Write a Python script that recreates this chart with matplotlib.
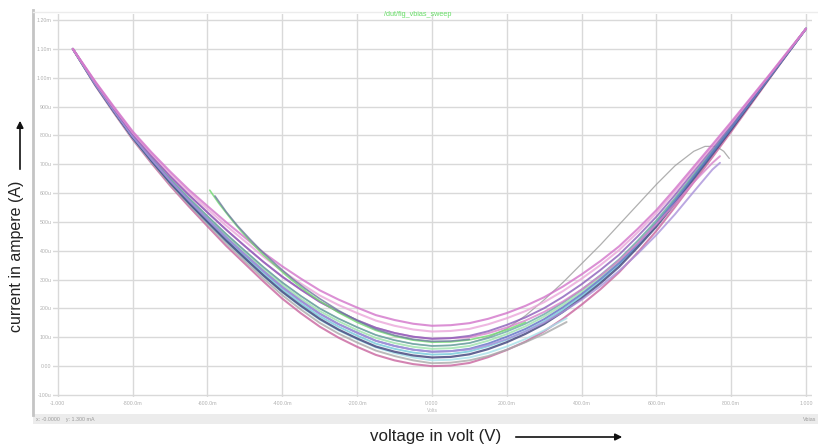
import matplotlib
matplotlib.use("Agg")
import matplotlib.pyplot as plt
from matplotlib.lines import Line2D
from matplotlib.patches import Rectangle, FancyArrowPatch

plt.rcParams['font.family'] = ['Liberation Sans', 'DejaVu Sans']

W, H = 818, 445

# ---------------- data ----------------
x_full = [-0.96, -0.90, -0.85, -0.80, -0.75, -0.70, -0.65, -0.60, -0.55, -0.50,
          -0.45, -0.40, -0.35, -0.30, -0.25, -0.20, -0.15, -0.10, -0.05, 0.00,
          0.05, 0.10, 0.15, 0.20, 0.25, 0.30, 0.35, 0.40, 0.45, 0.50,
          0.55, 0.60, 0.65, 0.70, 0.75, 0.80, 0.85, 0.90, 0.95, 1.00]

magenta = [1.100, 0.987, 0.899, 0.814, 0.742, 0.675, 0.612, 0.555, 0.499, 0.446,
           0.393, 0.346, 0.303, 0.263, 0.231, 0.203, 0.177, 0.160, 0.147, 0.140,
           0.142, 0.149, 0.164, 0.184, 0.209, 0.239, 0.276, 0.318, 0.364, 0.415,
           0.476, 0.541, 0.615, 0.692, 0.769, 0.847, 0.927, 1.007, 1.089, 1.170]
pink    = [1.100, 0.985, 0.896, 0.810, 0.737, 0.668, 0.604, 0.545, 0.487, 0.433,
           0.379, 0.330, 0.286, 0.245, 0.212, 0.184, 0.158, 0.140, 0.127, 0.120,
           0.122, 0.129, 0.145, 0.166, 0.191, 0.222, 0.260, 0.303, 0.350, 0.402,
           0.464, 0.531, 0.606, 0.684, 0.763, 0.842, 0.924, 1.005, 1.088, 1.170]
purple  = [1.100, 0.983, 0.892, 0.805, 0.730, 0.659, 0.594, 0.533, 0.473, 0.416,
           0.361, 0.310, 0.265, 0.223, 0.189, 0.159, 0.133, 0.115, 0.102, 0.095,
           0.097, 0.105, 0.121, 0.143, 0.169, 0.201, 0.240, 0.284, 0.333, 0.386,
           0.450, 0.518, 0.594, 0.675, 0.755, 0.836, 0.919, 1.003, 1.086, 1.170]
teal    = [1.100, 0.980, 0.888, 0.800, 0.723, 0.650, 0.583, 0.520, 0.458, 0.400,
           0.343, 0.290, 0.243, 0.200, 0.165, 0.135, 0.108, 0.090, 0.077, 0.070,
           0.072, 0.080, 0.097, 0.120, 0.147, 0.180, 0.220, 0.265, 0.315, 0.370,
           0.435, 0.505, 0.583, 0.665, 0.747, 0.830, 0.915, 1.000, 1.085, 1.170]
lgreen  = [1.100, 0.979, 0.887, 0.798, 0.720, 0.647, 0.579, 0.515, 0.452, 0.394,
           0.336, 0.282, 0.234, 0.191, 0.156, 0.125, 0.098, 0.080, 0.067, 0.060,
           0.062, 0.070, 0.088, 0.111, 0.138, 0.172, 0.212, 0.258, 0.308, 0.364,
           0.429, 0.500, 0.578, 0.661, 0.744, 0.828, 0.913, 0.999, 1.085, 1.170]
blue    = [1.100, 0.978, 0.885, 0.796, 0.718, 0.643, 0.575, 0.510, 0.446, 0.387,
           0.329, 0.274, 0.226, 0.182, 0.146, 0.116, 0.088, 0.070, 0.057, 0.050,
           0.052, 0.060, 0.078, 0.102, 0.129, 0.163, 0.204, 0.250, 0.301, 0.357,
           0.423, 0.495, 0.574, 0.657, 0.741, 0.825, 0.912, 0.998, 1.084, 1.170]
cyan    = [1.100, 0.977, 0.884, 0.794, 0.715, 0.640, 0.570, 0.505, 0.441, 0.380,
           0.321, 0.266, 0.217, 0.173, 0.137, 0.106, 0.078, 0.060, 0.047, 0.040,
           0.042, 0.051, 0.069, 0.092, 0.121, 0.155, 0.196, 0.243, 0.294, 0.351,
           0.418, 0.489, 0.569, 0.654, 0.738, 0.823, 0.910, 0.997, 1.083, 1.170]
navy    = [1.100, 0.976, 0.882, 0.792, 0.712, 0.636, 0.566, 0.500, 0.435, 0.374,
           0.314, 0.258, 0.209, 0.164, 0.127, 0.096, 0.068, 0.050, 0.037, 0.030,
           0.032, 0.041, 0.059, 0.083, 0.112, 0.146, 0.188, 0.235, 0.287, 0.344,
           0.412, 0.484, 0.565, 0.650, 0.735, 0.820, 0.908, 0.996, 1.083, 1.170]
rose    = [1.100, 0.973, 0.878, 0.786, 0.704, 0.626, 0.554, 0.485, 0.417, 0.355,
           0.293, 0.234, 0.183, 0.137, 0.099, 0.067, 0.039, 0.020, 0.007, 0.000,
           0.002, 0.011, 0.031, 0.056, 0.085, 0.121, 0.164, 0.213, 0.266, 0.325,
           0.394, 0.469, 0.552, 0.638, 0.725, 0.813, 0.903, 0.993, 1.082, 1.170]

x_short = [-0.96, -0.90, -0.85, -0.80, -0.75, -0.70, -0.65, -0.60, -0.55, -0.50,
           -0.45, -0.40, -0.35, -0.30, -0.25, -0.20, -0.15, -0.10, -0.05, 0.00,
           0.05, 0.10, 0.15, 0.20, 0.25, 0.30, 0.36]
gray_s  = [1.100, 0.975, 0.880, 0.789, 0.708, 0.631, 0.560, 0.492, 0.426, 0.364,
           0.303, 0.246, 0.196, 0.150, 0.113, 0.082, 0.054, 0.035, 0.020, 0.010,
           0.012, 0.020, 0.035, 0.057, 0.083, 0.112, 0.153]
lcyan_s = [1.100, 0.976, 0.882, 0.791, 0.711, 0.635, 0.565, 0.498, 0.433, 0.372,
           0.312, 0.256, 0.206, 0.161, 0.124, 0.093, 0.065, 0.045, 0.030, 0.020,
           0.022, 0.030, 0.046, 0.068, 0.094, 0.124, 0.166]

x_mid = [-0.96, -0.90, -0.85, -0.80, -0.75, -0.70, -0.65, -0.60, -0.55, -0.50,
         -0.45, -0.40, -0.35, -0.30, -0.25, -0.20, -0.15, -0.10, -0.05, 0.00,
         0.05, 0.10, 0.15, 0.20, 0.25, 0.30, 0.35, 0.40, 0.45, 0.50,
         0.55, 0.60, 0.65, 0.70, 0.75, 0.77]
lav_m   = [1.100, 0.978, 0.885, 0.796, 0.718, 0.643, 0.575, 0.510, 0.446, 0.387,
           0.329, 0.274, 0.226, 0.182, 0.146, 0.116, 0.088, 0.070, 0.057, 0.050,
           0.052, 0.058, 0.073, 0.094, 0.120, 0.151, 0.188, 0.230, 0.277, 0.330,
           0.390, 0.455, 0.527, 0.605, 0.682, 0.705]
pink_m  = [1.100, 0.983, 0.892, 0.805, 0.730, 0.659, 0.594, 0.533, 0.473, 0.416,
           0.361, 0.310, 0.265, 0.223, 0.189, 0.159, 0.133, 0.115, 0.102, 0.095,
           0.097, 0.100, 0.114, 0.134, 0.158, 0.188, 0.224, 0.266, 0.313, 0.366,
           0.426, 0.492, 0.563, 0.638, 0.705, 0.728]

x_loop = [-0.96, -0.90, -0.85, -0.80, -0.75, -0.70, -0.65, -0.60, -0.55, -0.50,
          -0.45, -0.40, -0.35, -0.30, -0.25, -0.20, -0.15, -0.10, -0.05, 0.00,
          0.05, 0.10, 0.15, 0.20, 0.25, 0.30, 0.35, 0.40, 0.45, 0.50,
          0.55, 0.60, 0.65, 0.70, 0.73, 0.76, 0.78, 0.795]
loop_g  = [1.100, 0.980, 0.888, 0.800, 0.723, 0.650, 0.583, 0.520, 0.458, 0.400,
           0.343, 0.290, 0.243, 0.200, 0.165, 0.135, 0.108, 0.090, 0.077, 0.070,
           0.072, 0.080, 0.100, 0.130, 0.175, 0.230, 0.290, 0.355, 0.420, 0.490,
           0.560, 0.630, 0.695, 0.745, 0.762, 0.762, 0.745, 0.720]

x_green = [-0.594, -0.57, -0.54, -0.51, -0.48, -0.45, -0.42, -0.39, -0.36, -0.33,
           -0.30, -0.25, -0.20, -0.15, -0.10, -0.05, 0.00, 0.05, 0.10, 0.15,
           0.20, 0.25]
green_s = [0.610, 0.565, 0.515, 0.468, 0.425, 0.385, 0.350, 0.315, 0.283, 0.253,
           0.226, 0.186, 0.152, 0.124, 0.104, 0.090, 0.083, 0.084, 0.091, 0.105,
           0.126, 0.152]
x_slate = [-0.58, -0.55, -0.52, -0.49, -0.46, -0.43, -0.40, -0.37, -0.34, -0.30,
           -0.25, -0.20, -0.15, -0.10, -0.05, 0.00, 0.05, 0.10]
slate_s = [0.590, 0.535, 0.487, 0.445, 0.405, 0.368, 0.333, 0.300, 0.270, 0.234,
           0.193, 0.158, 0.128, 0.107, 0.093, 0.086, 0.087, 0.093]

series = [
    (x_loop, loop_g, '#9c9c9c', 0.9),
    (x_full, rose, '#c8649e', 1.5),
    (x_short, gray_s, '#a9a9a9', 1.4),
    (x_short, lcyan_s, '#a8e2ea', 1.4),
    (x_full, cyan, '#72c9da', 1.4),
    (x_full, navy, '#3d4079', 1.6),
    (x_full, lgreen, '#9be3ab', 1.4),
    (x_full, teal, '#6aa6a6', 1.3),
    (x_full, blue, '#5b6fc2', 1.4),
    (x_mid, lav_m, '#aa92da', 1.4),
    (x_mid, pink_m, '#d884cb', 1.4),
    (x_full, purple, '#8b5eb9', 1.4),
    (x_full, pink, '#eaa6da', 1.5),
    (x_full, magenta, '#d274ca', 1.5),
    (x_green, green_s, '#6fd96f', 1.2),
    (x_slate, slate_s, '#6c7c9c', 1.2),
]

x_ticks = [-1.0, -0.8, -0.6, -0.4, -0.2, 0.0, 0.2, 0.4, 0.6, 0.8, 1.0]
x_tick_labels = ['-1.000', '-800.0m', '-600.0m', '-400.0m', '-200.0m', '0.000',
                 '200.0m', '400.0m', '600.0m', '800.0m', '1.000']
y_ticks = [-0.1, 0.0, 0.1, 0.2, 0.3, 0.4, 0.5, 0.6, 0.7, 0.8, 0.9, 1.0, 1.1, 1.2]
y_tick_labels = ['-100u', '0.00', '100u', '200u', '300u', '400u', '500u', '600u',
                 '700u', '800u', '900u', '1.00m', '1.10m', '1.20m']

# ---------------- figure ----------------
fig = plt.figure(figsize=(W / 100, H / 100), dpi=100)


def fx(p):
    return p / W


def fy(p):
    return 1 - p / H


ax_l, ax_r, ax_t, ax_b = 53, 812, 14, 397
ax = fig.add_axes([fx(ax_l), fy(ax_b), (ax_r - ax_l) / W, (ax_b - ax_t) / H])
ax.set_xlim(-1.013, 1.016)
ax.set_ylim(-0.107, 1.221)
for s in ax.spines.values():
    s.set_visible(False)
ax.set_xticks(x_ticks)
ax.set_xticklabels(x_tick_labels)
ax.set_yticks(y_ticks)
ax.set_yticklabels(y_tick_labels)
ax.tick_params(axis='both', length=0, labelsize=3.8, labelcolor='#b0b0b0')
ax.tick_params(axis='x', pad=3)
ax.tick_params(axis='y', pad=1)
ax.grid(True, color='#d9d9d9', linewidth=1.0)
ax.set_axisbelow(True)

for xs, ys, col, lw in series:
    ax.plot(xs, ys, color=col, linewidth=lw, alpha=0.8, solid_capstyle='round',
            solid_joinstyle='round')

# unit label below the zero tick
fig.text(fx(432), fy(410), 'Volts', fontsize=3.6, color='#b8b8b8', ha='center', va='center')

# panel frame: left rule, top rule, status bar
fig.add_artist(Line2D([fx(33), fx(33)], [fy(10), fy(415)], color='#c4c4c4', linewidth=2.0))
fig.add_artist(Line2D([fx(33), fx(818)], [fy(12), fy(12)], color='#ececec', linewidth=1.0))
fig.add_artist(Rectangle((fx(33), fy(424)), (818 - 33) / W, 10 / H,
                         transform=fig.transFigure, facecolor='#ececec', edgecolor='none'))
fig.text(fx(36), fy(419.5), 'x: -0.0000    y: 1.300 mA', fontsize=3.8, color='#9a9a9a',
         ha='left', va='center')
fig.text(fx(816), fy(419.5), 'Vbias', fontsize=3.8, color='#9a9a9a', ha='right', va='center')

# title (green) at top
fig.text(fx(418), fy(14.5), '/dut/fig_vbias_sweep', fontsize=5.2, color='#66dd66',
         ha='center', va='center')

# axis labels with arrows
fig.text(fx(17), fy(256), 'current in ampere (A)', rotation=90, fontsize=11.5,
         color='#222222', ha='center', va='center')
fig.add_artist(FancyArrowPatch((fx(20), fy(172)), (fx(20), fy(118)),
                               transform=fig.transFigure, arrowstyle='-|>',
                               mutation_scale=10, color='#111111', linewidth=1.2))
fig.text(fx(436), fy(437), 'voltage in volt (V)', fontsize=12.2, color='#222222',
         ha='center', va='center')
fig.add_artist(FancyArrowPatch((fx(513), fy(437)), (fx(625), fy(437)),
                               transform=fig.transFigure, arrowstyle='-|>',
                               mutation_scale=10, color='#111111', linewidth=1.2))

fig.savefig('out.png', dpi=100)
